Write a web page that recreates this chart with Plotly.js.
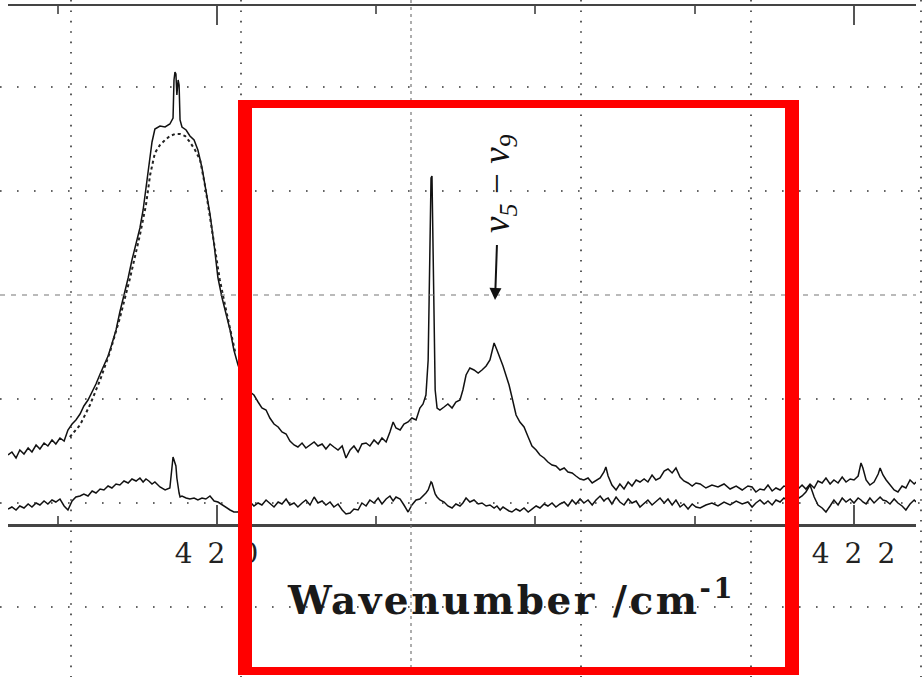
<!DOCTYPE html>
<html><head><meta charset="utf-8">
<script src="https://cdn.plot.ly/plotly-3.0.1.min.js"></script>
<style>
html,body{margin:0;padding:0;background:#fff;}
#chart{width:924px;height:677px;}
.xtick text{letter-spacing:15px;}
g.annotation[data-index="0"] text{letter-spacing:2.5px;}
</style></head><body><div id="chart"></div><script>
// common wavenumber grid (cm^-1) of both recorded spectra
const wavenumber = [
419.344,419.356,419.369,419.381,419.394,419.407,419.419,419.432,419.444,419.457,
419.469,419.482,419.494,419.507,419.520,419.532,419.545,419.557,419.570,419.582,
419.595,419.608,419.620,419.633,419.645,419.658,419.670,419.683,419.695,419.708,
419.721,419.733,419.746,419.758,419.768,419.777,419.786,419.796,419.805,419.821,
419.837,419.852,419.862,419.865,419.868,419.871,419.874,419.878,419.881,419.884,
419.890,419.903,419.915,419.928,419.940,419.953,419.965,419.978,419.991,420.003,
420.016,420.028,420.041,420.053,420.066,420.079,420.091,420.104,420.116,420.129,
420.141,420.154,420.166,420.179,420.192,420.204,420.217,420.229,420.242,420.254,
420.267,420.279,420.292,420.305,420.317,420.330,420.342,420.355,420.367,420.380,
420.393,420.405,420.418,420.430,420.443,420.455,420.468,420.480,420.493,420.506,
420.518,420.531,420.543,420.553,420.562,420.575,420.587,420.600,420.612,420.625,
420.637,420.647,420.656,420.663,420.666,420.669,420.672,420.675,420.678,420.681,
420.685,420.691,420.700,420.713,420.725,420.738,420.750,420.763,420.772,420.782,
420.794,420.807,420.820,420.832,420.845,420.857,420.870,420.879,420.889,420.898,
420.907,420.917,420.926,420.939,420.951,420.964,420.977,420.989,421.002,421.014,
421.027,421.039,421.052,421.064,421.077,421.090,421.102,421.115,421.127,421.140,
421.152,421.165,421.178,421.190,421.203,421.215,421.221,421.228,421.240,421.253,
421.265,421.278,421.291,421.303,421.316,421.328,421.341,421.353,421.366,421.378,
421.391,421.404,421.416,421.429,421.441,421.454,421.466,421.479,421.492,421.504,
421.517,421.535,421.554,421.573,421.592,421.611,421.630,421.649,421.667,421.680,
421.692,421.705,421.718,421.730,421.743,421.755,421.768,421.780,421.799,421.818,
421.837,421.849,421.862,421.875,421.887,421.900,421.912,421.925,421.937,421.950,
421.963,421.975,421.988,422.000,422.013,422.022,422.028,422.038,422.050,422.063,
422.076,422.082,422.091,422.101,422.113,422.126,422.138,422.151,422.163,422.176,
422.189,422.195];

// upper spectrum (arbitrary intensity units)
const spectrumUpper = [
69,72,66,74,70,76,72,79,75,81,
78,84,80,86,83,94,100,104,110,118,
124,132,140,150,158,168,180,194,212,228,
246,264,280,296,314,336,360,382,395,398,
397,400,406,444,452,450,429,444,439,404,
397,394,388,384,374,356,334,310,279,246,
226,212,194,174,159,148,139,132,129,122,
116,114,106,100,97,92,90,83,79,77,
81,76,79,82,78,80,75,80,77,74,
78,66,74,78,72,80,81,78,84,80,
86,82,92,102,96,94,100,102,106,104,
116,120,129,164,224,304,346,348,294,204,
134,116,114,117,120,116,122,124,134,149,
156,154,151,154,158,164,181,174,166,158,
149,139,127,109,102,97,87,78,74,69,
66,62,59,58,54,56,52,51,48,45,
44,46,41,43,46,52,57,48,39,34,
40,35,42,38,44,42,45,42,49,44,
46,53,55,51,56,47,43,41,38,41,
40,36,39,37,40,35,38,34,38,37,
32,35,34,39,33,36,34,38,36,33,
39,35,40,36,43,41,46,40,44,41,
47,42,45,44,48,61,56,44,39,42,
50,56,49,44,39,34,32,38,36,44,
40,42];

// lower (reference) spectrum
const spectrumLower = [
15,17,14,18,16,20,17,21,19,23,
20,24,22,25,18,14,23,27,28,30,
28,33,31,35,34,38,36,40,39,43,
41,45,43,46,42,45,43,40,42,37,
34,36,67,64,62,58,46,36,31,27,
28,26,25,26,24,26,25,28,23,22,
19,17,14,12,12,17,20,22,18,21,
19,24,21,17,22,20,25,19,21,17,
21,24,19,27,21,23,19,22,17,20,
14,10,11,15,14,21,18,24,21,26,
20,25,28,23,27,25,19,12,19,24,
25,28,31,34,37,40,42,41,37,34,
30,27,24,22,18,16,20,18,21,26,
22,24,20,21,18,19,16,18,14,17,
15,13,12,15,13,16,12,15,18,16,
20,18,21,17,20,22,18,24,20,25,
21,24,19,24,28,23,25,26,20,27,
22,19,25,21,23,17,21,24,19,22,
26,21,25,19,24,17,20,15,20,17,
16,19,21,18,22,19,23,20,22,17,
21,24,20,23,19,24,22,26,21,24,
28,32,39,27,19,16,12,18,24,19,
26,22,25,21,26,24,22,20,26,21,
25,27,24,23,20,25,21,18,14,20,
24,22];

// dotted band-contour fit of the strong band
const fitWavenumber = [419.538,419.570,419.601,419.633,419.664,419.695,419.727,419.758,419.777,419.790,
419.805,419.821,419.837,419.852,419.868,419.884,419.900,419.915,419.931,419.947,
419.962,419.978,419.994,420.009,420.025,420.041,420.057];
const fitProfile = [87,99,119,144,172,206,246,289,319,349,
371,379,384,388,390,390,388,382,374,364,
339,308,274,244,219,194,172];

const tickValues = [420, 422];
const tickLabels = ['420', '422'];
const xAxisTitle = 'Wavenumber /cm<sup>-1</sup>';
const bandLabel = 'ν<sub>5</sub>\u2009−\u2009ν<sub>9</sub>';
const bandArrowX = 420.873;
const bandArrowY = 224;

// ---- layout helpers (page pixels -> paper coordinates) ----
const L = 8, R = 916, T = 6, B = 524;
const PX = p => (p - L) / (R - L);
const PY = p => (B - p) / (B - T);

const traces = [
  {x: wavenumber, y: spectrumLower, mode: 'lines', line: {color: '#111', width: 1.5}, hoverinfo: 'skip'},
  {x: wavenumber, y: spectrumUpper, mode: 'lines', line: {color: '#111', width: 1.5}, hoverinfo: 'skip'},
  {x: fitWavenumber, y: fitProfile, mode: 'lines', line: {color: '#222', width: 2, dash: 'dot'}, hoverinfo: 'skip'}
];

const shapes = [];
[71, 241, 581, 751, 921].forEach(p => shapes.push({type: 'line', xref: 'paper', yref: 'paper',
  x0: PX(p), x1: PX(p), y0: PY(0), y1: PY(677), line: {color: '#333', width: 1.6, dash: '1.6px,8.8px'}}));
shapes.push({type: 'line', xref: 'paper', yref: 'paper', x0: PX(411), x1: PX(411), y0: PY(0), y1: PY(677),
  line: {color: '#777', width: 1.2, dash: '3px,4px'}});
[87, 191, 399, 503, 607].forEach(p => shapes.push({type: 'line', xref: 'paper', yref: 'paper',
  x0: PX(0), x1: PX(924), y0: PY(p), y1: PY(p), line: {color: '#333', width: 1.6, dash: '1.6px,15.4px'}}));
shapes.push({type: 'line', xref: 'paper', yref: 'paper', x0: PX(0), x1: PX(916), y0: PY(295), y1: PY(295),
  line: {color: '#777', width: 1.2, dash: '5px,6px'}});
// red highlight frame
const red = {type: 'rect', xref: 'paper', yref: 'paper', fillcolor: '#ff0000', line: {width: 0}};
shapes.push(Object.assign({}, red, {x0: PX(238), x1: PX(252), y0: PY(675), y1: PY(100)}));
shapes.push(Object.assign({}, red, {x0: PX(238), x1: PX(799), y0: PY(108), y1: PY(100)}));
shapes.push(Object.assign({}, red, {x0: PX(785), x1: PX(799), y0: PY(675), y1: PY(100)}));
shapes.push(Object.assign({}, red, {x0: PX(238), x1: PX(799), y0: PY(675), y1: PY(667)}));

const layout = {
  width: 924, height: 677,
  margin: {l: L, r: 924 - R, t: T, b: 677 - B, pad: 0},
  paper_bgcolor: '#fff', plot_bgcolor: '#fff',
  showlegend: false,
  xaxis: {
    range: [419.3438, 422.1947], showgrid: false, zeroline: false,
    showline: true, linecolor: '#444', linewidth: 2.5, mirror: 'ticks',
    tickmode: 'array', tickvals: tickValues, ticktext: tickLabels,
    ticks: 'inside', ticklen: 19, tickwidth: 2, tickcolor: '#555',
    minor: {dtick: 0.5, tick0: 420, ticks: 'inside', ticklen: 8, tickwidth: 2, tickcolor: '#666', showgrid: false},
    tickfont: {family: 'DejaVu Serif', size: 28, color: '#222'},
    ticklabelshift: 7, ticklabelstandoff: 3
  },
  yaxis: {range: [0, 518], showgrid: false, zeroline: false, showline: false, showticklabels: false, ticks: ''},
  shapes: shapes,
  annotations: [
    {xref: 'paper', yref: 'paper', x: PX(511), y: PY(597), xanchor: 'center', yanchor: 'middle',
     text: xAxisTitle, showarrow: false, font: {family: 'DejaVu Serif', size: 39, color: '#1a1a1a', weight: 'bold'}},
    {x: bandArrowX, y: bandArrowY, xref: 'x', yref: 'y', text: bandLabel, textangle: -90,
     showarrow: true, ax: 4, ay: -116, startstandoff: 10, arrowhead: 2, arrowsize: 1.2, arrowwidth: 2,
     arrowcolor: '#111', font: {family: 'Liberation Serif', size: 37, color: '#111', style: 'italic'}}
  ]
};

Plotly.newPlot('chart', traces, layout, {staticPlot: true, displayModeBar: false});
</script></body></html>
